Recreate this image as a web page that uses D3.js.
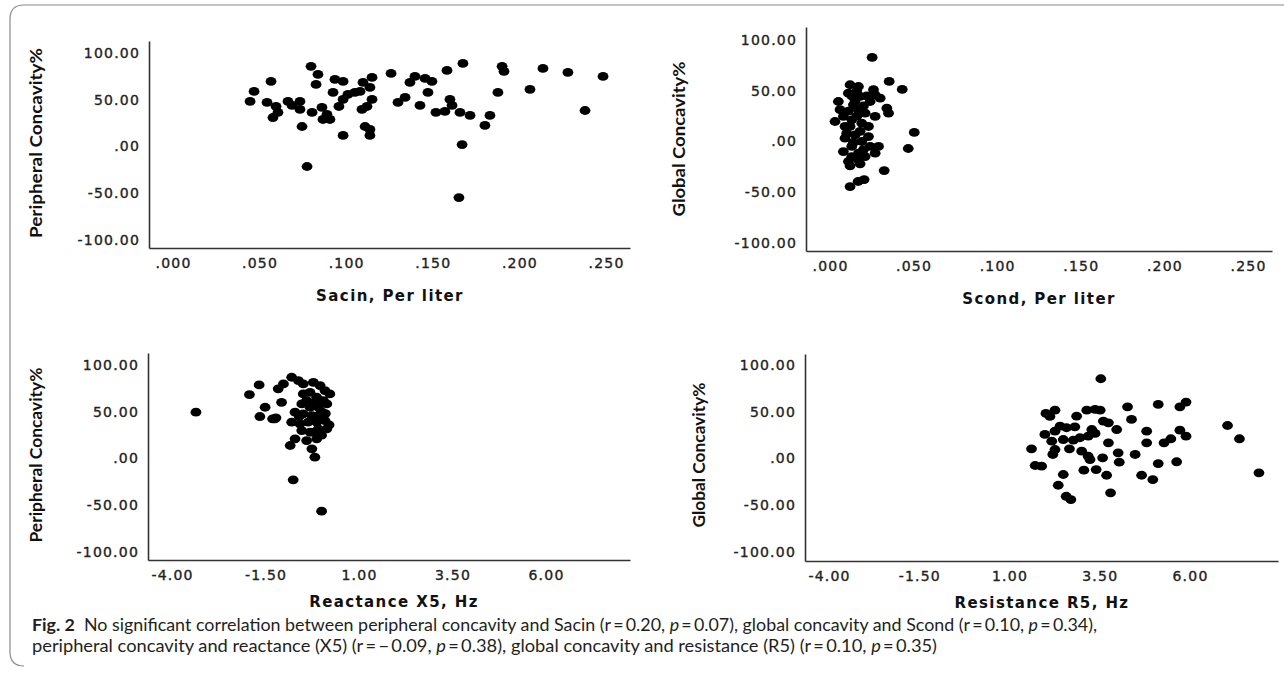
<!DOCTYPE html>
<html>
<head>
<meta charset="utf-8">
<script src="https://cdn.jsdelivr.net/npm/d3@7"></script>
<style>
	body { margin: 0; background: #fff; }
	.tick text { font-family: "DejaVu Sans", sans-serif; font-size: 14px; letter-spacing: 1.2px; fill: #222; stroke: #222; stroke-width: 0.35px; }
	.x-title { font-family: "DejaVu Sans", sans-serif; font-size: 15px; font-weight: bold; letter-spacing: 1.4px; fill: #111; }
	.y-title { font-family: "Lato", "Open Sans", sans-serif; font-size: 17px; font-weight: bold; fill: #111; }
	.caption { font-family: "Lato", "Noto Sans", sans-serif; font-size: 17px; fill: #231f20; }
</style>
</head>
<body>
<svg id="chart" width="1284" height="678"></svg>
<script>
// 1: DATA
const concavityTicks = [-100, -50, 0, 50, 100];
const perLiterTicks = [0, 0.05, 0.10, 0.15, 0.20, 0.25];
const hzTicks = [-4, -1.5, 1, 3.5, 6];

// Sacin vs peripheral concavity
const sacin = [0.0445, 0.0468, 0.0566, 0.0543, 0.0595, 0.0606, 0.0577, 0.0664, 0.0687, 0.0733, 0.0733, 0.0745,
	0.0797, 0.0837, 0.0826, 0.0803, 0.0774, 0.086, 0.0866, 0.0906, 0.0889, 0.0935, 0.0982, 0.0924, 0.0958, 0.0982,
	0.101, 0.105, 0.108, 0.1097, 0.1149, 0.1137, 0.1149, 0.1091, 0.112, 0.0982, 0.1109, 0.1137, 0.1137, 0.1259,
	0.1299, 0.134, 0.1368, 0.1397, 0.1426, 0.1455, 0.1495, 0.1472, 0.1582, 0.1674, 0.1599, 0.157, 0.1518, 0.1611,
	0.1657, 0.1715, 0.1669, 0.1651, 0.1801, 0.183, 0.1876, 0.19, 0.1911, 0.2061, 0.2136, 0.228, 0.2379, 0.2483];
const sacinPeripheral = [48.2, 58.9, 69.6, 47.1, 42.8, 36.4, 31.0, 48.2, 43.9, 48.2, 39.6, 21.4,
	85.7, 77.1, 66.4, 36.4, -21.4, 41.8, 28.9, 28.9, 34.3, 71.7, 69.6, 57.8, 42.8, 50.3,
	55.7, 57.8, 58.9, 68.5, 73.9, 63.2, 50.3, 39.6, 42.8, 11.8, 21.4, 18.2, 11.8, 78.2,
	47.1, 52.5, 68.5, 74.9, 43.9, 72.8, 69.6, 57.8, 81.4, 88.9, 50.3, 37.5, 36.4, 43.9,
	36.4, 33.2, 2.1, -54.6, 22.5, 33.2, 57.8, 85.7, 80.3, 61.0, 83.5, 79.2, 38.5, 74.9];

// Scond vs global concavity
const scond = [0.0252, 0.0354, 0.0432, 0.0504, 0.0468, 0.0324, 0.012, 0.0168, 0.0204,
	0.012, 0.017, 0.011, 0.026, 0.027, 0.030, 0.005, 0.006, 0.008, 0.014, 0.017, 0.021, 0.013, 0.019,
	0.034, 0.035, 0.027, 0.023, 0.010, 0.009, 0.015, 0.019, 0.023, 0.008, 0.013, 0.017, 0.024, 0.029,
	0.027, 0.011, 0.017, 0.021, 0.003, 0.018, 0.009, 0.024,
	0.013, 0.015, 0.016, 0.012, 0.018, 0.014, 0.020, 0.011, 0.020, 0.022, 0.016, 0.013, 0.018, 0.012];
const scondGlobal = [82.8, 59.2, 51.3, 8.9, -6.9, -28.6, -44.4, -39.4, -37.5,
	55.9, 54.2, 47.6, 51, 46, 42.7, 39.4, 31.3, 24.7, 36.2, 31.3, 27.9, 21.4, 18,
	32.8, 27.9, 24.7, 14.8, 8.2, 3.3, 6.6, 0, 4.9, -9.9, -4.9, -11.5, -4.9, -4.9,
	-11.5, -19.7, -18, -14.8, 19.7, 44.4, 14.8, 39.4,
	45, 40, 25, 15, 10, -1, -8, 30, 35, 45, 50, -15, -22, -24];

// Reactance X5 vs peripheral concavity
const reactanceX5 = [-0.80, -0.62, -0.49, -0.22, -0.04, 0.09, 0.22, -1.16, -1.02, -0.49, -0.31, -0.13, 0.05,
	-1.07, -0.53, -0.31, -0.09, 0.14, -0.71, -0.49, -0.26, -0.04, -1.25, -0.80, -0.58, -0.36, -0.13, 0.09,
	-0.53, -0.31, -0.09, 0.14, -0.40, -0.13, -0.71, -0.84, -0.26, -0.18,
	-3.36, -1.93, -1.67, -1.51, -1.65, -1.31, -0.76, 0.0, -1.22,
	-0.2, 0.0, -0.1, 0.1, 0.2, -0.4, -0.6, -0.2, 0.0];
const reactancePeripheral = [86.9, 83.3, 79.8, 81.5, 78.0, 72.6, 69.1, 74.5, 79.8, 69.1, 70.8, 65.5, 62.0,
	60.1, 58.4, 54.8, 54.8, 58.4, 49.5, 47.8, 45.9, 47.8, 42.4, 38.8, 37.1, 38.8, 38.8, 40.6,
	29.9, 28.1, 31.7, 31.7, 19.2, 21.0, 21.0, 13.9, 10.4, 1.4,
	49.5, 68.4, 78.7, 54.8, 44.9, 42.4, -22.8, -56.3, 43.5,
	60, 50, 44, 48, 36, 62, 45, 28, 25];

// Resistance R5 vs global concavity
const resistanceR5 = [3.53, 2.01, 2.26, 2.12, 2.86, 3.14, 3.37, 3.51, 4.27, 5.12, 5.72, 5.89, 4.38, 3.6, 3.74, 3.97,
	2.4, 2.58, 2.81, 2.26, 1.98, 3.28, 3.37, 3.18, 2.95, 2.17, 2.49, 2.77, 1.61, 2.2, 2.26, 2.66, 3.0, 3.18,
	3.23, 3.58, 3.74, 4.01, 4.04, 4.48, 4.8, 4.8, 5.28, 5.47, 5.72, 5.89, 5.12, 5.63, 7.04, 7.37, 7.91,
	1.71, 1.89, 2.49, 2.35, 2.57, 2.7, 3.06, 3.4, 3.69, 3.8, 4.66, 4.97];
const resistanceGlobal = [85.3, 48.2, 51.7, 45, 45.3, 51.7, 52.5, 51.7, 55.3, 57.8, 55.3, 60.3, 41.8, 40, 38.2, 31,
	34.6, 32.9, 33.9, 29.2, 25.7, 31, 26.8, 23.9, 22.2, 18.5, 20.3, 19.6, 10.4, 4.3, 9.6, 10.4, 7.8, 2.5,
	-1.1, 0.7, 16.8, 6.1, -3.9, 4.3, 29.2, 16.8, 16.8, 21.1, 30.3, 23.9, -5.4, -3.5, 35.3, 21.1, -15.3,
	-7.5, -8.2, -17.1, -28.6, -40.4, -43.9, -12.5, -11.8, -17.9, -36.7, -17.9, -22.5];

// 2: SVG + FRAME
const svg = d3.select("#chart");

svg.append("path")
	.attr("d", "M1284,5 H24 Q10,5 10,19 V652 Q10,666 24,666")
	.attr("fill", "none")
	.attr("stroke", "#8a8a8a")
	.attr("stroke-width", 1.2);

// scale from two tick anchors, stretched out to the axis line ends
function anchoredScale(v0, p0, v1, p1, pLo, pHi) {
	const k = (p1 - p0) / (v1 - v0);
	return d3.scaleLinear()
		.domain([v0 + (pLo - p0) / k, v0 + (pHi - p0) / k])
		.range([pLo, pHi]);
}

const fmtConcavity = d => d.toFixed(2).replace(/^0\./, ".").replace(/^-0\./, "-.");
const fmtPerLiter = d => d.toFixed(3).replace(/^0\./, ".");
const fmtHz = d => d.toFixed(2);

// 3: PANELS
const panels = [
	{ xs: sacin, ys: sacinPeripheral, xTicks: perLiterTicks, xFmt: fmtPerLiter,
		x: anchoredScale(0, 173, 0.25, 606, 149, 630), y: anchoredScale(-100, 240, 100, 53, 248, 41),
		xTitle: "Sacin, Per liter", xTitlePos: [390, 301], yTitle: "Peripheral Concavity%", yTitlePos: [36, 143], yTitleLen: 190 },
	{ xs: scond, ys: scondGlobal, xTicks: perLiterTicks, xFmt: fmtPerLiter,
		x: anchoredScale(0, 830, 0.25, 1248, 806, 1272), y: anchoredScale(-100, 243, 100, 40, 251, 27),
		xTitle: "Scond, Per liter", xTitlePos: [1039, 304], yTitle: "Global Concavity%", yTitlePos: [679, 139], yTitleLen: 155 },
	{ xs: reactanceX5, ys: reactancePeripheral, xTicks: hzTicks, xFmt: fmtHz,
		x: anchoredScale(-4, 172, 6, 546, 148, 630), y: anchoredScale(-100, 552, 100, 365, 560, 353),
		xTitle: "Reactance X5, Hz", xTitlePos: [394, 607], yTitle: "Peripheral Concavity%", yTitlePos: [36, 455], yTitleLen: 175 },
	{ xs: resistanceR5, ys: resistanceGlobal, xTicks: hzTicks, xFmt: fmtHz,
		x: anchoredScale(-4, 829, 6, 1190, 805, 1278), y: anchoredScale(-100, 552, 100, 365, 561, 354),
		xTitle: "Resistance R5, Hz", xTitlePos: [1042, 608], yTitle: "Global Concavity%", yTitlePos: [699, 455], yTitleLen: 145 }
];

panels.forEach(p => {
	const g = svg.append("g");
	const [xLo] = p.x.range();
	const [yBottom] = p.y.range();

	// axes
	const xAxis = g.append("g")
		.attr("transform", `translate(0,${yBottom})`)
		.call(d3.axisBottom(p.x).tickValues(p.xTicks).tickFormat(p.xFmt).tickSize(0).tickSizeOuter(0).tickPadding(10));
	const yAxis = g.append("g")
		.attr("transform", `translate(${xLo},0)`)
		.call(d3.axisLeft(p.y).tickValues(concavityTicks).tickFormat(fmtConcavity).tickSize(0).tickSizeOuter(0).tickPadding(9));

	[xAxis, yAxis].forEach(a => a.select(".domain")
		.attr("stroke", "#333")
		.attr("stroke-width", 1.6));

	// points
	g.selectAll("ellipse")
		.data(d3.zip(p.xs, p.ys))
		.join("ellipse")
			.attr("cx", d => p.x(d[0]))
			.attr("cy", d => p.y(d[1]))
			.attr("rx", 5.4)
			.attr("ry", 4.4)
			.attr("fill", "#000");

	// titles
	g.append("text")
		.attr("class", "x-title")
		.attr("x", p.xTitlePos[0])
		.attr("y", p.xTitlePos[1])
		.attr("text-anchor", "middle")
		.text(p.xTitle);

	g.append("text")
		.attr("class", "y-title")
		.attr("transform", `translate(${p.yTitlePos[0]},${p.yTitlePos[1]}) rotate(-90)`)
		.attr("text-anchor", "middle")
		.attr("dy", "0.35em")
		.attr("textLength", p.yTitleLen)
		.attr("lengthAdjust", "spacingAndGlyphs")
		.text(p.yTitle);
});

// 4: CAPTION
const line1 = svg.append("text")
	.attr("class", "caption")
	.attr("x", 32)
	.attr("y", 631)
	.attr("textLength", 1065)
	.attr("lengthAdjust", "spacingAndGlyphs");
line1.append("tspan").attr("font-weight", "bold").text("Fig. 2");
line1.append("tspan").text("\u2002No significant correlation between peripheral concavity and Sacin (r\u2009=\u20090.20, ");
line1.append("tspan").attr("font-style", "italic").text("p");
line1.append("tspan").text("\u2009=\u20090.07), global concavity and Scond (r\u2009=\u20090.10, ");
line1.append("tspan").attr("font-style", "italic").text("p");
line1.append("tspan").text("\u2009=\u20090.34),");

const line2 = svg.append("text")
	.attr("class", "caption")
	.attr("x", 32)
	.attr("y", 652)
	.attr("textLength", 905)
	.attr("lengthAdjust", "spacingAndGlyphs");
line2.append("tspan").text("peripheral concavity and reactance (X5) (r\u2009=\u2009\u2212\u20090.09, ");
line2.append("tspan").attr("font-style", "italic").text("p");
line2.append("tspan").text("\u2009=\u20090.38), global concavity and resistance (R5) (r\u2009=\u20090.10, ");
line2.append("tspan").attr("font-style", "italic").text("p");
line2.append("tspan").text("\u2009=\u20090.35)");
</script>
</body>
</html>
